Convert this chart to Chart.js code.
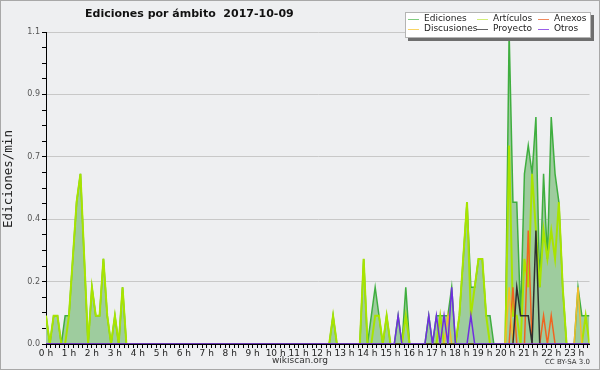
<!DOCTYPE html>
<html>
<head>
<meta charset="utf-8">
<title>Ediciones por ámbito</title>
<script src="https://cdn.jsdelivr.net/npm/chart.js@4.4.0/dist/chart.umd.min.js"></script>
<style>
  html, body { margin: 0; padding: 0; background: #eeeff1; }
</style>
</head>
<body>
<canvas id="edChart" width="600" height="370"></canvas>
<script>
// valores cada 10 minutos (ediciones/min), una fila = 2 horas
const ediciones = [
  0.1,0,0.1,0.1,0,0.1,          0.1,0.3,0.5,0.6,0.3,0,
  0.2,0.1,0.1,0.3,0.1,0,        0.1,0,0.2,0,0,0,
  0,0,0,0,0,0,                  0,0,0,0,0,0,
  0,0,0,0,0,0,                  0,0,0,0,0,0,
  0,0,0,0,0,0,                  0,0,0,0,0,0,
  0,0,0,0,0,0,                  0,0,0,0,0,0,
  0,0,0,0.1,0,0,                0,0,0,0,0,0.3,
  0,0.1,0.2,0.1,0,0.1,          0,0,0.1,0,0.2,0,
  0,0,0,0,0.1,0,                0.1,0.1,0.1,0.1,0.2,0,
  0.1,0.3,0.5,0.2,0.2,0.3,      0.3,0.1,0.1,0,0,0,
  0,1.1,0.5,0.5,0.1,0.6,        0.7,0.6,0.8,0.2,0.6,0.3,
  0.8,0.6,0.5,0.2,0,0,          0,0.2,0.1,0.1,0.1
];
const articulos = [
  0.1,0,0.1,0.1,0,0,            0.1,0.3,0.5,0.6,0.3,0,
  0.2,0.1,0.1,0.3,0.1,0,        0.1,0,0.2,0,0,0,
  0,0,0,0,0,0,                  0,0,0,0,0,0,
  0,0,0,0,0,0,                  0,0,0,0,0,0,
  0,0,0,0,0,0,                  0,0,0,0,0,0,
  0,0,0,0,0,0,                  0,0,0,0,0,0,
  0,0,0,0.1,0,0,                0,0,0,0,0,0.3,
  0,0,0.1,0.1,0,0.1,            0,0,0,0,0.1,0,
  0,0,0,0,0,0,                  0,0.1,0,0,0,0,
  0.1,0.3,0.5,0.1,0.2,0.3,      0.3,0.1,0,0,0,0,
  0,0.7,0.1,0.1,0,0.3,          0.2,0.6,0.4,0.2,0.4,0.3,
  0.4,0.3,0.5,0.2,0,0,          0,0,0,0.1,0
];
const anexos = [
  0,0,0,0,0,0,  0,0,0,0,0,0,
  0,0,0,0,0,0,  0,0,0,0,0,0,
  0,0,0,0,0,0,  0,0,0,0,0,0,
  0,0,0,0,0,0,  0,0,0,0,0,0,
  0,0,0,0,0,0,  0,0,0,0,0,0,
  0,0,0,0,0,0,  0,0,0,0,0,0,
  0,0,0,0,0,0,  0,0,0,0,0,0,
  0,0,0,0,0,0,  0,0,0,0,0,0,
  0,0,0,0,0,0,  0,0,0,0,0,0,
  0,0,0,0,0,0,  0,0,0,0,0,0,
  0,0,0.2,0,0,0,  0.4,0,0,0,0.1,0,
  0.1,0,0,0,0,0,  0,0,0,0,0
];
const discusiones = [
  0,0,0,0,0,0,  0,0,0,0,0,0,
  0,0,0,0,0,0,  0,0,0,0,0,0,
  0,0,0,0,0,0,  0,0,0,0,0,0,
  0,0,0,0,0,0,  0,0,0,0,0,0,
  0,0,0,0,0,0,  0,0,0,0,0,0,
  0,0,0,0,0,0,  0,0,0,0,0,0,
  0,0,0,0,0,0,  0,0,0,0,0,0,
  0,0,0,0,0,0,  0,0,0,0,0,0,
  0,0,0,0,0,0,  0,0,0,0.1,0,0,
  0,0,0,0,0,0,  0,0,0,0,0,0,
  0,0.2,0,0,0,0,  0,0,0,0,0,0,
  0,0,0,0,0,0,  0,0.2,0,0,0
];
const proyecto = [
  0,0,0,0,0,0,  0,0,0,0,0,0,
  0,0,0,0,0,0,  0,0,0,0,0,0,
  0,0,0,0,0,0,  0,0,0,0,0,0,
  0,0,0,0,0,0,  0,0,0,0,0,0,
  0,0,0,0,0,0,  0,0,0,0,0,0,
  0,0,0,0,0,0,  0,0,0,0,0,0,
  0,0,0,0,0,0,  0,0,0,0,0,0,
  0,0,0,0,0,0,  0,0,0,0,0,0,
  0,0,0,0,0,0,  0,0,0,0,0,0,
  0,0,0,0,0,0,  0,0,0,0,0,0,
  0,0,0,0.2,0.1,0.1,  0.1,0,0.4,0,0,0,
  0,0,0,0,0,0,  0,0,0,0,0
];
const otros = [
  0,0,0,0,0,0,  0,0,0,0,0,0,
  0,0,0,0,0,0,  0,0,0,0,0,0,
  0,0,0,0,0,0,  0,0,0,0,0,0,
  0,0,0,0,0,0,  0,0,0,0,0,0,
  0,0,0,0,0,0,  0,0,0,0,0,0,
  0,0,0,0,0,0,  0,0,0,0,0,0,
  0,0,0,0,0,0,  0,0,0,0,0,0,
  0,0,0,0,0,0,  0,0,0.1,0,0,0,
  0,0,0,0,0.1,0,  0.1,0,0.1,0,0.2,0,
  0,0,0,0.1,0,0,  0,0,0,0,0,0,
  0,0,0,0,0,0,  0,0,0,0,0,0,
  0,0,0,0,0,0,  0,0,0,0,0
];

const hourLabels = ['0 h','1 h','2 h','3 h','4 h','5 h','6 h','7 h','8 h','9 h','10 h','11 h',
  '12 h','13 h','14 h','15 h','16 h','17 h','18 h','19 h','20 h','21 h','22 h','23 h'];
const yTickLabels = ['0.0', '0.2', '0.4', '0.7', '0.9', '1.1'];
const yMax = 1.1;

const legendItems = [
  { text: 'Ediciones',   color: '#80cc80', x: 408, y: 19 },
  { text: 'Artículos',   color: '#d2ee7a', x: 477, y: 19 },
  { text: 'Anexos',      color: '#f08a5e', x: 538, y: 19 },
  { text: 'Discusiones', color: '#f8d464', x: 408, y: 29 },
  { text: 'Proyecto',    color: '#646464', x: 477, y: 29 },
  { text: 'Otros',       color: '#9a5ee8', x: 538, y: 29 }
];

// posiciones x en horas (un punto cada 10 min)
const pts = arr => arr.map((v, i) => ({ x: i / 6, y: v }));

function serie(label, values, color, width, order, extra) {
  return Object.assign({
    label: label,
    data: pts(values),
    borderColor: color,
    borderWidth: width,
    pointRadius: 0,
    tension: 0,
    fill: false,
    order: order
  }, extra || {});
}

const data = {
  datasets: [
    serie('Otros', otros, '#6f2ee0', 1.5, 1),
    serie('Proyecto', proyecto, '#2e2e2e', 1.5, 2),
    serie('Discusiones', discusiones, '#f2bd2a', 1.5, 3),
    serie('Anexos', anexos, '#f06420', 1.5, 4),
    serie('Artículos', articulos, '#a8e400', 2, 5),
    serie('Ediciones', ediciones, '#3fae3f', 1.5, 6, {
      fill: 'origin',
      backgroundColor: 'rgb(158,204,158)'
    })
  ]
};

const decor = {
  id: 'decor',
  beforeDraw(chart) {
    const c = chart.ctx;
    c.save();
    c.fillStyle = '#eeeff1';
    c.fillRect(0, 0, chart.width, chart.height);
    c.restore();
  },
  afterDraw(chart) {
    const c = chart.ctx;
    c.save();
    // titulo
    c.fillStyle = '#111';
    c.font = 'bold 11px "DejaVu Sans"';
    c.textBaseline = 'middle';
    c.textAlign = 'left';
    c.fillText('Ediciones por ámbito  2017-10-09', 85, 14);

    // titulo del eje y
    c.save();
    c.translate(9, 179);
    c.rotate(-Math.PI / 2);
    c.textAlign = 'center';
    c.font = '12.5px "DejaVu Sans Mono"';
    c.fillStyle = '#222';
    c.fillText('Ediciones/min', 0, 0);
    c.restore();

    // leyenda
    c.fillStyle = '#6e6e6e';
    c.fillRect(408, 15, 186, 26);
    c.fillStyle = '#ffffff';
    c.fillRect(405, 12, 186, 26);
    c.strokeStyle = '#b4b4b4';
    c.lineWidth = 1;
    c.strokeRect(405.5, 12.5, 185, 25);
    c.font = '9px "DejaVu Sans"';
    legendItems.forEach(it => {
      c.strokeStyle = it.color;
      c.beginPath();
      c.moveTo(it.x, it.y + 0.5);
      c.lineTo(it.x + 11, it.y + 0.5);
      c.stroke();
      c.fillStyle = '#222';
      c.fillText(it.text, it.x + 16, it.y);
    });

    // pie
    c.fillStyle = '#333';
    c.font = '9px "DejaVu Sans"';
    c.textAlign = 'center';
    c.fillText('wikiscan.org', 300, 361);
    c.font = '7px "DejaVu Sans"';
    c.textAlign = 'right';
    c.fillText('CC BY-SA 3.0', 590, 362);

    // marco
    c.strokeStyle = '#a8a8a8';
    c.strokeRect(0.5, 0.5, chart.width - 1, chart.height - 1);
    c.restore();
  }
};

const config = {
  type: 'line',
  data: data,
  options: {
    responsive: false,
    animation: false,
    devicePixelRatio: 1,
    layout: { padding: { left: 0, right: 10.5, top: 32, bottom: 0 } },
    plugins: {
      legend: { display: false },
      title: { display: false },
      tooltip: { enabled: false }
    },
    scales: {
      x: {
        type: 'linear',
        min: 0,
        max: 142 / 6,
        afterBuildTicks: s => {
          const t = [];
          for (let i = 0; i * 0.2 <= s.max + 1e-9; i++) t.push({ value: i * 0.2 });
          s.ticks = t;
        },
        afterFit: s => { s.height = 26; },
        ticks: {
          autoSkip: false,
          maxRotation: 0,
          minRotation: 0,
          padding: 0,
          color: '#222',
          font: { family: 'DejaVu Sans', size: 9 },
          callback: (v, i) => (i % 5 === 0 ? hourLabels[i / 5] : '')
        },
        grid: { drawOnChartArea: false, drawTicks: true, tickLength: 4, tickColor: '#000' },
        border: { display: true, color: '#000', width: 1 }
      },
      y: {
        min: 0,
        max: yMax,
        afterBuildTicks: s => {
          const t = [];
          for (let k = 0; k <= 20; k++) t.push({ value: k * yMax / 20 });
          s.ticks = t;
        },
        afterFit: s => { s.width = 46; },
        ticks: {
          autoSkip: false,
          padding: 2,
          color: '#555',
          font: { family: 'DejaVu Sans', size: 8 },
          callback: (v, i) => (i % 4 === 0 ? yTickLabels[i / 4] : '')
        },
        grid: {
          color: c => (c.index % 4 === 0 && c.index > 0 ? '#c8c8c8' : 'rgba(0,0,0,0)'),
          tickColor: '#000',
          tickLength: 4
        },
        border: { display: true, color: '#000', width: 1 }
      }
    }
  },
  plugins: [decor]
};

const el = document.querySelector('#edChart');
if (el) {
  new Chart(el, config);
} else {
  console.error('canvas edChart not found');
}
</script>
</body>
</html>
